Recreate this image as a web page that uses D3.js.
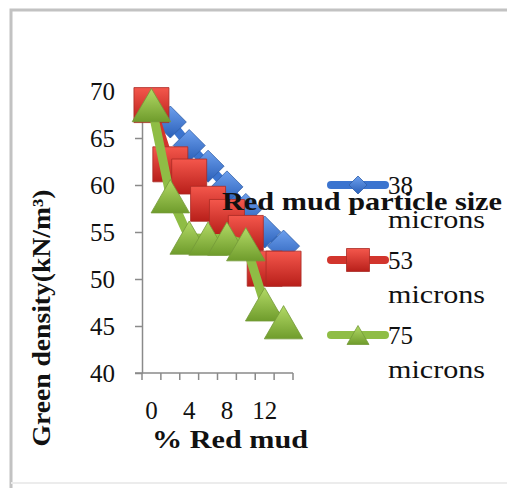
<!DOCTYPE html>
<html>
<head>
<meta charset="utf-8">
<script src="https://cdn.jsdelivr.net/npm/d3@7"></script>
<style>
  body { margin: 0; background: #fff; }
  svg text { font-family: "Liberation Serif", "Times New Roman", Tinos, Times, serif; fill: #111; }
</style>
</head>
<body>
<svg id="chart" width="507" height="488"></svg>
<script>
// chart data
const categories = [0, 2, 4, 6, 8, 10, 12, 14];
const xTickLabels = [0, 4, 8, 12];
const yTicks = [40, 45, 50, 55, 60, 65, 70];
const seriesNames = ["38", "53", "75"];
const micron38 = [68.6, 66.7, 64.2, 62.0, 59.8, 57.4, 55.0, 53.5];
const micron53 = [68.5, 62.2, 60.9, 58.0, 56.6, 54.9, 51.1, 51.1];
const micron75 = [68.5, 58.8, 54.4, 54.3, 54.3, 53.7, 47.3, 45.4];

const FONT = "'Liberation Serif', 'Times New Roman', Tinos, Times, serif";

const svg = d3.select("#chart");

// outer frame
svg.append("path")
  .attr("d", "M11,520 L11,10 L520,10")
  .attr("fill", "none")
  .attr("stroke", "#c2c2c2")
  .attr("stroke-width", 3);
svg.append("line")
  .attr("x1", 11).attr("x2", 520).attr("y1", 483).attr("y2", 483)
  .attr("stroke", "#ececec").attr("stroke-width", 2);

// gradients for the bevelled markers
const defs = svg.append("defs");
const grads = [
  { id: "gBlue", top: "#6da0ee", bottom: "#2a5fb8" },
  { id: "gRed", top: "#f4574c", bottom: "#b81f1a" },
  { id: "gGreen", top: "#b3da66", bottom: "#6f9c2c" }
];
grads.forEach(g => {
  const lg = defs.append("linearGradient").attr("id", g.id)
    .attr("x1", 0).attr("y1", 0).attr("x2", 0).attr("y2", 1);
  lg.append("stop").attr("offset", "0%").attr("stop-color", g.top);
  lg.append("stop").attr("offset", "100%").attr("stop-color", g.bottom);
});

// scales
const x = d3.scaleBand()
  .domain(categories)
  .range([142, 293]);

const y = d3.scaleLinear()
  .domain([40, 70])
  .range([373, 91]);

const cx = d => x(d) + x.bandwidth() / 2;

// y axis
const yAxis = svg.append("g")
  .attr("transform", "translate(142,0)")
  .call(d3.axisLeft(y).tickValues(yTicks).tickSize(7).tickPadding(20).tickSizeOuter(0));
yAxis.attr("font-family", FONT);
yAxis.select(".domain").attr("stroke", "#8a8a8a").attr("stroke-width", 1.5);
yAxis.selectAll(".tick line").attr("stroke", "#8a8a8a").attr("stroke-width", 1.5);
yAxis.selectAll("text")
  .style("font-family", FONT)
  .style("font-size", "25px")
  .attr("fill", "#111");

// x axis: line + ticks at category boundaries
const xAxis = svg.append("g").attr("transform", "translate(0,373)");
xAxis.append("line")
  .attr("x1", 135).attr("x2", x.range()[1])
  .attr("stroke", "#8a8a8a").attr("stroke-width", 1.5);
xAxis.selectAll(".xt")
  .data(categories.concat(["end"]))
  .enter().append("line")
  .attr("class", "xt")
  .attr("x1", (d, i) => x.range()[0] + i * x.step())
  .attr("x2", (d, i) => x.range()[0] + i * x.step())
  .attr("y1", 0).attr("y2", 7)
  .attr("stroke", "#8a8a8a").attr("stroke-width", 1.5);
xAxis.selectAll(".xl")
  .data(xTickLabels)
  .enter().append("text")
  .attr("class", "xl")
  .attr("x", d => cx(d))
  .attr("y", 46)
  .attr("text-anchor", "middle")
  .style("font-family", FONT)
  .style("font-size", "25px")
  .text(d => d);

// series
const series = [
  { name: seriesNames[0], values: micron38, color: "#3b74cf", fill: "url(#gBlue)", shape: "diamond" },
  { name: seriesNames[1], values: micron53, color: "#d2352d", fill: "url(#gRed)", shape: "square" },
  { name: seriesNames[2], values: micron75, color: "#8fbd45", fill: "url(#gGreen)", shape: "triangle" }
];

function markerPath(shape, s) {
  if (shape === "diamond") return `M0,${-s} L${s},0 L0,${s} L${-s},0 Z`;
  if (shape === "square") return `M${-s},${-s} H${s} V${s} H${-s} Z`;
  return `M0,${-s * 0.95} L${s * 1.1},${s * 0.95} L${-s * 1.1},${s * 0.95} Z`;
}
const markerSize = { diamond: 16, square: 17.5, triangle: 17.5 };

const line = d3.line()
  .x((d, i) => cx(categories[i]))
  .y(d => y(d));

series.forEach(s => {
  const g = svg.append("g");
  g.append("path")
    .datum(s.values)
    .attr("d", line)
    .attr("fill", "none")
    .attr("stroke", s.color)
    .attr("stroke-width", 9)
    .attr("stroke-linejoin", "round");
  g.selectAll("path.m")
    .data(s.values)
    .enter().append("path")
    .attr("class", "m")
    .attr("transform", (d, i) => `translate(${cx(categories[i])},${y(d)})`)
    .attr("d", markerPath(s.shape, markerSize[s.shape]))
    .attr("fill", s.fill)
    .attr("stroke", d3.color(s.color).darker(0.6))
    .attr("stroke-width", 0.8);
});

// legend
const legend = svg.append("g");
const legendSize = { diamond: 9, square: 11.5, triangle: 10 };
series.forEach((s, i) => {
  const ly = 185 + i * 75;
  const row = legend.append("g").attr("transform", `translate(0,${ly})`);
  row.append("line")
    .attr("x1", 331).attr("x2", 385)
    .attr("stroke", s.color).attr("stroke-width", 8)
    .attr("stroke-linecap", "round");
  row.append("path")
    .attr("transform", "translate(358,0)")
    .attr("d", markerPath(s.shape, legendSize[s.shape]))
    .attr("fill", s.fill)
    .attr("stroke", d3.color(s.color).darker(0.6))
    .attr("stroke-width", 0.8);
  row.append("text")
    .attr("x", 388).attr("y", 9)
    .style("font-size", "25px")
    .text(s.name);
  row.append("text")
    .attr("x", 388).attr("y", 43)
    .style("font-size", "25px")
    .attr("textLength", 97)
    .attr("lengthAdjust", "spacingAndGlyphs")
    .text("microns");
});

// titles
svg.append("text")
  .attr("transform", "translate(50,318) rotate(-90)")
  .attr("text-anchor", "middle")
  .style("font-size", "25px")
  .style("font-weight", "bold")
  .attr("textLength", 257)
  .attr("lengthAdjust", "spacingAndGlyphs")
  .text("Green density(kN/m³)");

svg.append("text")
  .attr("x", 152).attr("y", 448)
  .style("font-size", "25px")
  .style("font-weight", "bold")
  .attr("textLength", 156)
  .attr("lengthAdjust", "spacingAndGlyphs")
  .text("% Red mud");

svg.append("text")
  .attr("x", 222).attr("y", 210)
  .style("font-size", "26px")
  .style("font-weight", "bold")
  .attr("textLength", 280)
  .attr("lengthAdjust", "spacingAndGlyphs")
  .text("Red mud particle size");
</script>
</body>
</html>
